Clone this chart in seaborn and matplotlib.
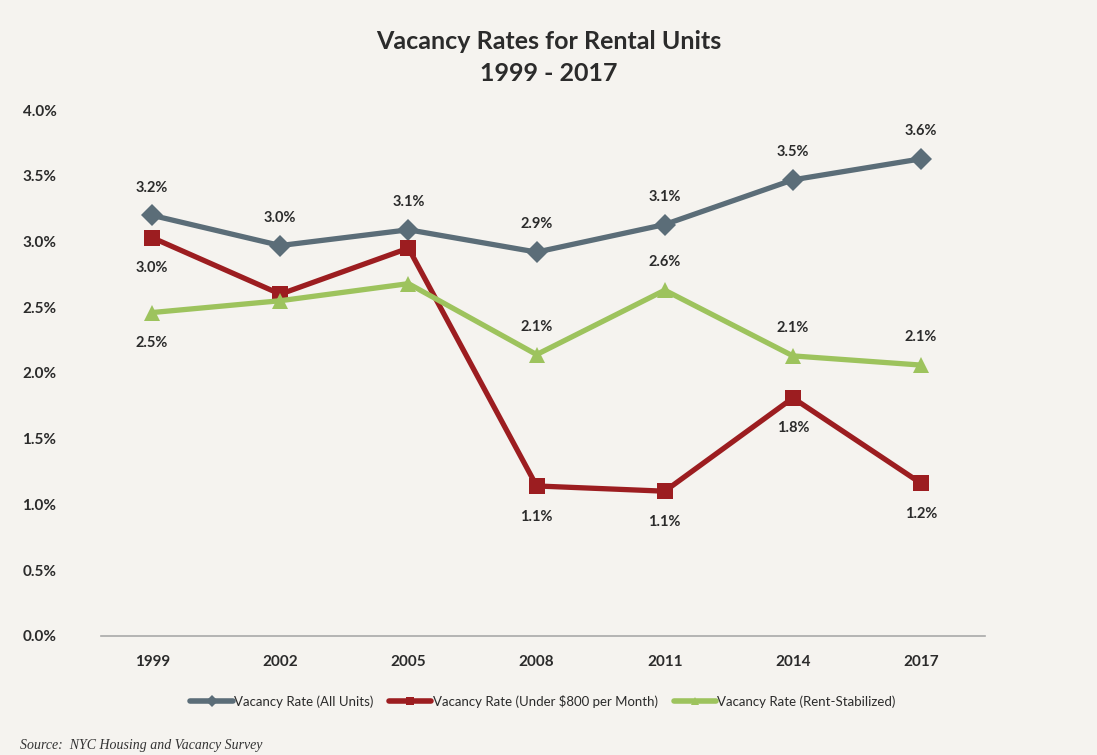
import pandas as pd
import seaborn as sns
import matplotlib.pyplot as plt

# Dados
years = ["1999", "2002", "2005", "2008", "2011", "2014", "2017"]
all_units = [3.20, 2.97, 3.09, 2.92, 3.13, 3.47, 3.63]
under_800 = [3.03, 2.60, 2.95, 1.14, 1.10, 1.81, 1.16]
rent_stab = [2.46, 2.55, 2.68, 2.14, 2.63, 2.13, 2.06]

# rotulos como aparecem no grafico ("" = sem rotulo)
all_units_lbl = ["3.2%", "3.0%", "3.1%", "2.9%", "3.1%", "3.5%", "3.6%"]
under_800_lbl = ["3.0%", "", "", "1.1%", "1.1%", "1.8%", "1.2%"]
rent_stab_lbl = ["2.5%", "", "", "2.1%", "2.6%", "2.1%", "2.1%"]

series_names = [
    "Vacancy Rate (All Units)",
    "Vacancy Rate (Under $800 per Month)",
    "Vacancy Rate (Rent-Stabilized)",
]
colors = ["#5b6d78", "#9c1d20", "#9dc35d"]
markers = ["D", "s", "^"]

# posicao dos rotulos: +1 acima, -1 abaixo
label_pos = [
    [1, 1, 1, 1, 1, 1, 1],
    [-1, -1, -1, -1, -1, -1, -1],
    [-1, 1, 1, 1, 1, 1, 1],
]

def main():
    bg = "#f5f3ef"
    df = pd.DataFrame({
        "year": years * 3,
        "rate": all_units + under_800 + rent_stab,
        "series": [s for s in series_names for _ in years],
    })

    sns.set_style("white")
    plt.rcParams["font.family"] = ["Lato", "DejaVu Sans"]

    fig = plt.figure(figsize=(10.97, 7.55), dpi=100, facecolor=bg)
    ax = fig.add_axes([0.092, 0.158, 0.806, 0.696], facecolor=bg)

    sns.lineplot(
        data=df, x="year", y="rate", hue="series", style="series",
        palette=colors, markers=markers, dashes=False,
        linewidth=3.8, markersize=11, markeredgewidth=0, ax=ax,
    )

    # rotulos de dados
    for vals, lbls, pos in zip([all_units, under_800, rent_stab],
                               [all_units_lbl, under_800_lbl, rent_stab_lbl], label_pos):
        for i, (v, t, p) in enumerate(zip(vals, lbls, pos)):
            if not t:
                continue
            off = 20 if p > 0 else -22
            ax.annotate(t, (i, v), xytext=(0, off), textcoords="offset points",
                        ha="center", va="center", fontsize=10.5, fontweight="bold",
                        color="#2b2b2b")

    ax.set_xlim(-0.4, 6.5)
    ax.set_ylim(0, 4.0)
    ax.set_yticks([i * 0.5 for i in range(9)])
    ax.set_yticklabels([f"{i * 0.5:.1f}%" for i in range(9)])
    ax.set_xlabel("")
    ax.set_ylabel("")
    ax.tick_params(axis="both", length=0, labelsize=11, labelcolor="#2b2b2b")
    ax.tick_params(axis="x", pad=14)
    ax.tick_params(axis="y", pad=32)
    for lbl in ax.get_xticklabels() + ax.get_yticklabels():
        lbl.set_fontweight("bold")
    for side in ["top", "right", "left"]:
        ax.spines[side].set_visible(False)
    ax.spines["bottom"].set_color("#a9a9a9")
    ax.spines["bottom"].set_linewidth(1.2)

    fig.text(0.5, 0.945, "Vacancy Rates for Rental Units", ha="center", va="center",
             fontsize=18, fontweight="bold", color="#2b2b2b")
    fig.text(0.5, 0.903, "1999 - 2017", ha="center", va="center",
             fontsize=18, fontweight="bold", color="#2b2b2b")

    leg = ax.legend(loc="center", bbox_to_anchor=(0.5, -0.125), ncol=3, frameon=False,
                    fontsize=9.5, handlelength=3.2, handletextpad=0.1, columnspacing=1.2)
    for t in leg.get_texts():
        t.set_color("#2b2b2b")
    for h in leg.legend_handles:
        h.set_markersize(6)
        h.set_linewidth(4)

    fig.text(0.018, 0.012, "Source:  NYC Housing and Vacancy Survey", ha="left", va="center",
             fontsize=10, fontstyle="italic", family=["Liberation Serif", "DejaVu Serif"],
             color="#333333")

    fig.savefig("out.png", dpi=100, facecolor=bg)

main()
